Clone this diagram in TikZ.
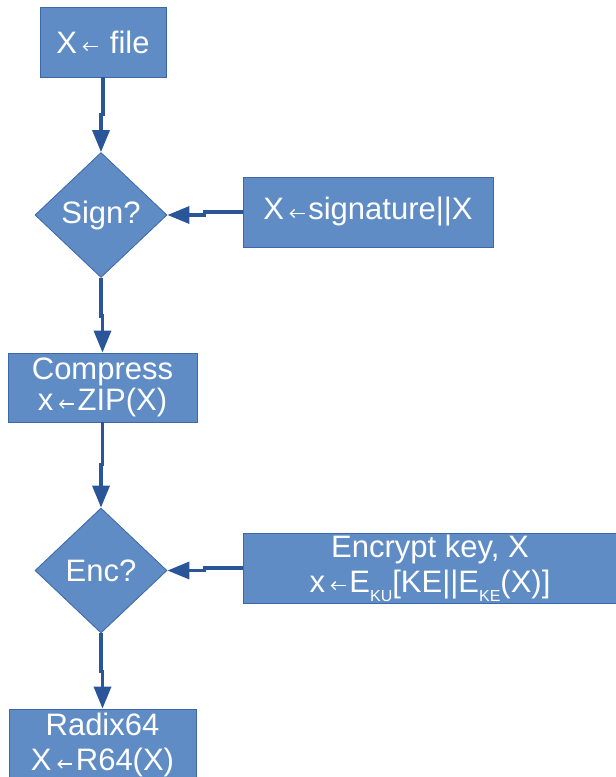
\documentclass[tikz,border=0pt]{standalone}
\usepackage{fontspec}
\setmainfont{Liberation Sans}
\usetikzlibrary{shapes.geometric,arrows.meta}
\definecolor{boxfill}{HTML}{5F8CC4}
\definecolor{boxline}{HTML}{3D67A8}
\definecolor{arrowc}{HTML}{2A5598}
\newcommand{\arr}{\hspace{5pt}\tikz[baseline=0pt,x=1pt,y=1pt]{\draw[white,line width=1.3pt,-{Straight Barb[length=4pt,width=8pt]}] (15,6.5) -- (0,6.5);}\hspace{3pt}}
\newcommand{\subt}[1]{\raisebox{-9pt}{\fontsize{16}{16}\selectfont #1}}
\begin{document}
\begin{tikzpicture}[x=1pt,y=-1pt,
 box/.style={draw=boxline,line width=0.8pt,fill=boxfill,text=white,font=\fontsize{31}{34}\selectfont,align=center,inner sep=0pt},
 dec/.style={diamond,draw=boxline,line width=0.8pt,fill=boxfill,text=white,font=\fontsize{31}{34}\selectfont,inner sep=0pt,minimum width=132pt,minimum height=125pt},
 flow/.style={draw=arrowc,line width=3.5pt,-{Triangle[length=22pt,width=17pt]}}]
\useasboundingbox (0,0) rectangle (616,777);
\node[box,minimum width=126pt,minimum height=70pt] (file) at (103,42) {X\arr\ file};
\node[dec] (sign) at (101,215) {Sign?};
\node[box,minimum width=250pt,minimum height=70pt] (sig) at (368,212) {X\arr signature||X};
\node[box,minimum width=189pt,minimum height=69pt,font=\fontsize{31}{31}\selectfont] (comp) at (102.5,387.5) {Compress\\x\arr ZIP(X)};
\node[dec] (enc) at (101,570.5) {Enc?};
\node[box,minimum width=374pt,minimum height=70pt,font=\fontsize{31}{35}\selectfont] (encr) at (430,568) {Encrypt key, X\\x\arr E\subt{KU}[KE||E\subt{KE}(X)]};
\node[box,minimum width=187pt,minimum height=72pt,font=\fontsize{31}{35}\selectfont] (radix) at (102.5,745) {Radix64\\X\arr R64(X)};
\draw[flow] (file.south) -- ++(0,37) -| (sign.north);
\draw[flow] (sig.west) -- ++(-38,0) |- (sign.east);
\draw[flow] (sign.south) -- ++(0,38) -| (comp.north);
\draw[flow] (comp.south) -- ++(0,42) -| (enc.north);
\draw[flow] (encr.west) -- ++(-38,0) |- (enc.east);
\draw[flow] (enc.south) -- ++(0,38) -| (radix.north);
\end{tikzpicture}
\end{document}
